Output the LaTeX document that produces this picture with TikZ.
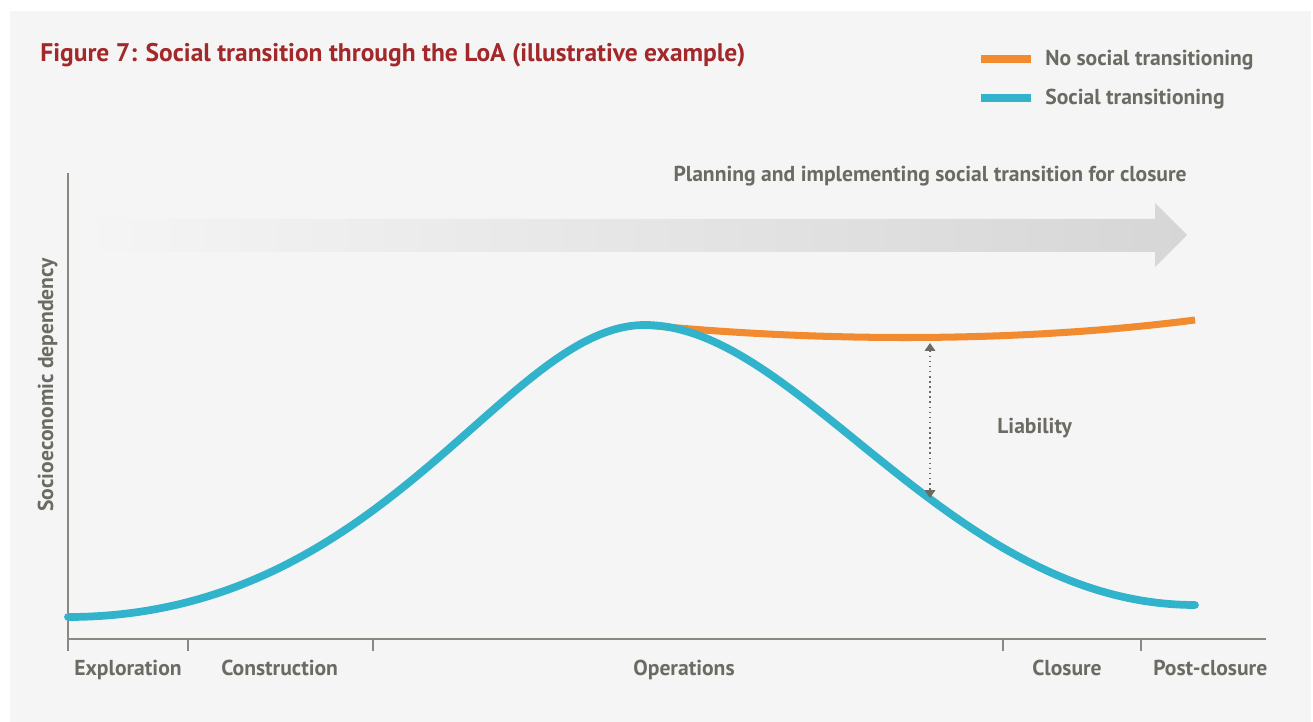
\documentclass[tikz,border=0pt]{standalone}
\usepackage{fontspec}
\setmainfont{PT Sans}
\usepackage{tikz}
\usetikzlibrary{arrows.meta}

\definecolor{bgray}{HTML}{F5F5F5}
\definecolor{titlered}{HTML}{A3282A}
\definecolor{txtgray}{HTML}{6B6A63}
\definecolor{axgray}{HTML}{8A8880}
\definecolor{lineorange}{HTML}{F28A30}
\definecolor{lineblue}{HTML}{30B3CB}
\definecolor{arrowgray}{HTML}{D6D6D6}

\tikzset{
    lbl/.style={text=txtgray, font=\fontsize{12.3}{14}\selectfont\bfseries, inner sep=0pt},
    tick/.style={draw=axgray, line width=0.9pt},
    blueline/.style={draw=lineblue, line width=4.4pt, line cap=round},
    orangeline/.style={draw=lineorange, line width=4pt}
}

\begin{document}
\begin{tikzpicture}[x=0.02cm, y=-0.02cm]
        \useasboundingbox (0,0) rectangle (1313,722);
        \fill[bgray] (10,11) rectangle (1311,722);

        \node[anchor=base west, inner sep=0pt, text=titlered, font=\fontsize{14.5}{17}\selectfont\bfseries] (title) at (40,62) {Figure 7: Social transition through the LoA (illustrative example)};

        % legend
        \coordinate (L1) at (981,59);
        \coordinate (L2) at (1031,59);
        \coordinate (L3) at (981,98);
        \coordinate (L4) at (1031,98);
        \draw[orangeline] (L1) to (L2);
        \draw[draw=lineblue, line width=4pt] (L3) to (L4);
        \node[lbl, anchor=base west] (nosocial) at (1045,66) {No social transitioning};
        \node[lbl, anchor=base west] (social) at (1045,105) {Social transitioning};

        % gray arrow
        \shade[left color=bgray, right color=arrowgray] (80,219) -- (1155,219) -- (1155,203) -- (1187,235) -- (1155,267) -- (1155,252) -- (80,252) -- cycle;
        \node[lbl, anchor=base east] (planning) at (1187,182) {Planning and implementing social transition for closure};

        % axes
        \coordinate (O) at (68,639);
        \coordinate (Ytop) at (68,173);
        \coordinate (Xend) at (1266,639);
        \draw[tick] (Ytop) to (O);
        \draw[tick] (O) to (Xend);
        \foreach \x in {68,188,373,1003,1141}
            \draw[tick] (\x,639) -- (\x,651);

        \node[lbl, anchor=base west] (explo) at (74,676) {Exploration};
        \node[lbl, anchor=base west] (constr) at (221,676) {Construction};
        \node[lbl, anchor=base west] (oper) at (633,676) {Operations};
        \node[lbl, anchor=base west] (clos) at (1032,676) {Closure};
        \node[lbl, anchor=base west] (post) at (1153,676) {Post-closure};
        \node[lbl, anchor=base west, rotate=90] (ylabel) at (53,512) {Socioeconomic dependency};

        % curves
        \coordinate (start) at (68,617);
        \coordinate (peak) at (645,325);
        \coordinate (oend) at (1195,320);
        \coordinate (bend) at (1195,605);
        \draw[orangeline] (peak) .. controls (800,340) and (1000,345) .. (oend);
        \draw[blueline] (start) .. controls (385,617) and (505,325) .. (peak)
            .. controls (800,325) and (950,605) .. (bend);

        % liability
        \coordinate (Ltop) at (930,343);
        \coordinate (Lbot) at (930,498);
        \draw[txtgray, dotted, line width=0.9pt, {Triangle[width=6pt,length=4.5pt]}-{Triangle[width=6pt,length=4.5pt]}] (Ltop) to (Lbot);
        \node[lbl, anchor=base west] (liab) at (997,434) {Liability};
    \end{tikzpicture}
\end{document}
